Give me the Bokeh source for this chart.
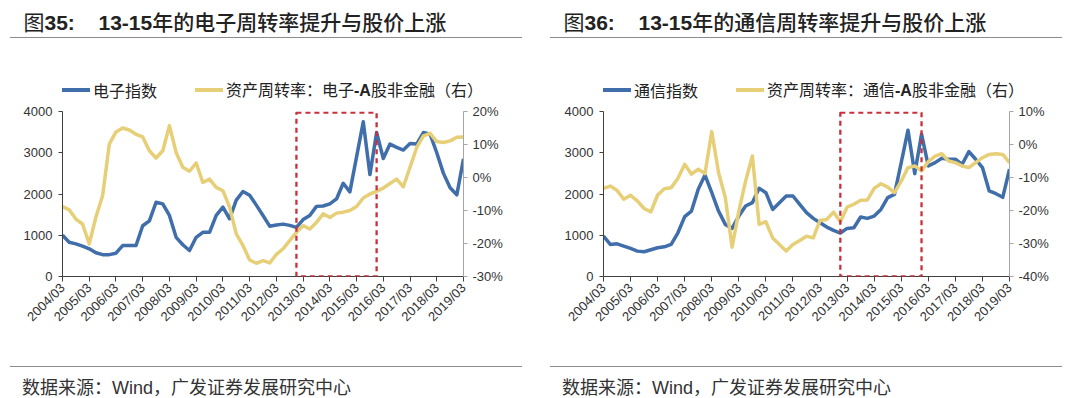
import math
from bokeh.plotting import figure
from bokeh.models import (Range1d, LinearAxis, FixedTicker, PrintfTickFormatter,
                          BoxAnnotation, Div)
from bokeh.layouts import row, column
from bokeh.embed import file_html
from bokeh.resources import INLINE

# ---------------- data (quarterly, 2004/03 .. 2019/03) ----------------
quarters = [f"{y}/{m:02d}" for y in range(2004, 2020) for m in (3, 6, 9, 12)][:61]
tick_labels = ["2004/03", "2005/03", "2006/03", "2007/03", "2008/03", "2009/03",
               "2010/03", "2011/03", "2012/03", "2013/03", "2014/03", "2015/03",
               "2016/03", "2017/03", "2018/03", "2019/03"]

elec_index = [1000, 830, 790, 735, 670, 575, 530, 530, 565, 750, 750, 750,
              1230, 1350, 1800, 1760, 1480, 950, 770, 630, 950, 1070, 1070, 1480,
              1680, 1400, 1850, 2060, 1970, 1730, 1480, 1220, 1250, 1270, 1240, 1190,
              1380, 1480, 1700, 1710, 1760, 1880, 2260, 2050, 2900, 3750, 2470, 3490,
              2860, 3210, 3130, 3065, 3225, 3210, 3490, 3450, 3000, 2500, 2150, 1980,
              2850]
elec_turnover = [-8.8, -9.8, -12.6, -14.1, -20.1, -12.0, -5.5, 10.1, 13.8, 15.0, 14.4, 13.1,
                 12.3, 8.1, 5.9, 8.1, 15.7, 7.6, 3.1, 1.9, 4.4, -1.5, -0.5, -3.0,
                 -4.0, -9.0, -17.1, -20.6, -25.0, -26.0, -25.2, -25.9, -23.3, -21.6, -19.1, -16.6,
                 -14.6, -15.6, -13.6, -11.0, -12.1, -10.8, -10.5, -10.0, -8.8, -6.2, -5.0, -4.2,
                 -3.2, -1.8, -0.5, -2.8, 3.1, 9.1, 12.6, 13.4, 10.9, 10.6, 11.1, 12.2,
                 12.3]

tel_index = [980, 777, 793, 737, 680, 615, 600, 648, 696, 720, 777, 1060,
             1450, 1587, 2113, 2460, 2032, 1587, 1263, 1166, 1465, 1708, 1790, 2137,
             2032, 1627, 1790, 1951, 1951, 1749, 1547, 1409, 1304, 1198, 1117, 1053,
             1166, 1182, 1441, 1409, 1465, 1627, 1911, 1992, 2760, 3546, 2494, 3449,
             2680, 2761, 2866, 2842, 2842, 2720, 3028, 2842, 2640, 2073, 2008, 1920,
             2600]
tel_turnover = [-13.3, -12.6, -13.9, -16.6, -15.4, -17.1, -19.4, -20.4, -15.3, -13.4, -13.1, -10.2,
                -6.0, -9.0, -7.5, -8.8, 3.9, -8.5, -16.1, -31.1, -20.2, -11.1, -3.5, -24.2,
                -23.4, -28.3, -30.3, -32.3, -30.3, -29.1, -27.8, -28.3, -23.0, -22.7, -20.5, -23.4,
                -19.0, -18.1, -16.9, -16.8, -13.3, -11.9, -12.9, -14.6, -11.1, -7.0, -6.5, -8.0,
                -5.2, -3.5, -2.8, -5.0, -5.5, -6.5, -7.0, -5.5, -4.0, -3.0, -2.8, -3.0,
                -5.5]

highlight_period = ("2012/12", "2015/12")

BLUE = "#3F6EAA"
YELLOW = "#E6CF77"
RED = "#C9303B"
CJK = "Noto Sans CJK SC"
LAT = "Liberation Sans"


def qpos(label):
    return quarters.index(label)


def legend_entry(color, html):
    return (f'<span style="display:inline-flex;align-items:center;">'
            f'<span style="display:inline-block;width:28px;height:4px;background:{color};'
            f'margin-right:3px;"></span>'
            f'<span style="font-family:\'{CJK}\';font-size:16px;line-height:20px;color:#222;">'
            f'{html}</span></span>')


def make_panel(fig_no, title_cn, idx_name, turn_pre, turn_post, idx_vals, turn_vals,
               right_range, right_ticks, frame_lr):
    W = 540
    TH = 101
    ml, mr = frame_lr
    # ---------------- title + legend ----------------
    leg1 = legend_entry(BLUE, idx_name)
    leg2 = legend_entry(YELLOW, f'{turn_pre}<b style="font-family:\'{LAT}\';">-A</b>{turn_post}')
    title_html = (
        f'<div style="position:relative;width:{W}px;height:{TH}px;">'
        f'<div style="position:absolute;left:10px;top:37px;width:512px;height:0;'
        f'border-top:1.5px solid #8C8C8C;"></div>'
        f'<div style="position:absolute;left:23.5px;top:8px;white-space:nowrap;'
        f'font-family:\'{LAT}\',\'{CJK}\';font-size:21px;line-height:26px;color:#222;">'
        f'<span style="font-family:\'{CJK}\';">图</span><b>{fig_no}:</b></div>'
        f'<div style="position:absolute;left:98.5px;top:8px;white-space:nowrap;'
        f'font-family:\'{LAT}\',\'{CJK}\';font-size:21px;line-height:26px;color:#222;">'
        f'<b>13-15</b><span style="font-family:\'{CJK}\';font-weight:500;">{title_cn}</span></div>'
        f'<div style="position:absolute;left:{ml}px;top:79px;white-space:nowrap;'
        f'display:flex;gap:38px;">{leg1}{leg2}</div>'
        f'</div>')
    title = Div(text=title_html, width=W, height=TH, margin=0,
                styles={"overflow": "visible"})

    # ---------------- figure ----------------
    p = figure(width=W, height=240, x_range=Range1d(0, 60), y_range=Range1d(0, 4000),
               output_backend="svg", toolbar_location=None,
               min_border_left=ml, min_border_right=mr, min_border_top=10,
               min_border_bottom=65, margin=0)
    p.outline_line_color = None
    p.grid.visible = False
    p.background_fill_color = "white"
    p.border_fill_color = "white"

    p.extra_y_ranges = {"r": Range1d(*right_range)}

    x = [quarters.index(q) for q in quarters]
    p.line(x, idx_vals, line_color=BLUE, line_width=3.5, line_join="round")
    p.line(x, turn_vals, line_color=YELLOW, line_width=3.5, line_join="round",
           y_range_name="r")

    # axes
    xa = p.xaxis[0]
    xa.ticker = FixedTicker(ticks=[qpos(t) for t in tick_labels])
    xa.major_label_overrides = {qpos(t): t for t in tick_labels}
    xa.major_label_orientation = math.pi / 4
    xa.major_tick_out = 5
    xa.major_tick_in = 0
    xa.minor_tick_out = 0
    xa.minor_tick_in = 0
    xa.axis_line_color = "#404040"
    xa.major_tick_line_color = "#404040"
    xa.major_label_text_font = LAT
    xa.major_label_text_font_size = "13px"
    xa.major_label_text_color = "#333333"
    xa.major_label_standoff = 4

    ya = p.yaxis[0]
    ya.ticker = FixedTicker(ticks=[0, 1000, 2000, 3000, 4000])
    ya.formatter = PrintfTickFormatter(format="%d")
    ya.major_tick_out = 4
    ya.major_tick_in = 0
    ya.minor_tick_out = 0
    ya.minor_tick_in = 0
    ya.axis_line_color = "#404040"
    ya.major_tick_line_color = "#404040"
    ya.major_label_text_font = LAT
    ya.major_label_text_font_size = "13px"
    ya.major_label_text_color = "#333333"
    ya.major_label_standoff = 6

    ra = LinearAxis(y_range_name="r", ticker=FixedTicker(ticks=right_ticks),
                    formatter=PrintfTickFormatter(format="%d%%"))
    ra.major_tick_out = 4
    ra.major_tick_in = 0
    ra.minor_tick_out = 0
    ra.minor_tick_in = 0
    ra.axis_line_color = "#A6A6A6"
    ra.major_tick_line_color = "#A6A6A6"
    ra.major_label_text_font = LAT
    ra.major_label_text_font_size = "13px"
    ra.major_label_text_color = "#333333"
    ra.major_label_standoff = 5
    p.add_layout(ra, "right")

    # highlighted period
    box = BoxAnnotation(left=qpos(highlight_period[0]), right=qpos(highlight_period[1]),
                        bottom=0, top=3975, fill_alpha=0, line_color=RED, line_alpha=1,
                        line_width=2.3, line_dash="5 4")
    p.add_layout(box)

    # ---------------- footer ----------------
    foot_html = (
        f'<div style="position:relative;width:{W}px;height:57px;">'
        f'<div style="position:absolute;left:10px;top:25px;width:512px;height:0;'
        f'border-top:1.5px solid #8C8C8C;"></div>'
        f'<div style="position:absolute;left:22px;top:36px;white-space:nowrap;'
        f'font-family:\'{LAT}\',\'{CJK}\';font-size:18px;line-height:18px;color:#333;">'
        f'<span style="font-family:\'{CJK}\';">数据来源：</span>Wind<span style="font-family:\'{CJK}\';">，广发证券发展研究中心</span></div>'
        f'</div>')
    foot = Div(text=foot_html, width=W, height=57, margin=0,
               styles={"overflow": "visible"})

    return column(title, p, foot, spacing=0)


left = make_panel("35", "年的电子周转率提升与股价上涨", "电子指数",
                  "资产周转率：电子", "股非金融（右）", elec_index, elec_turnover,
                  (-30, 20), [-30, -20, -10, 0, 10, 20], (62, 77))
right = make_panel("36", "年的通信周转率提升与股价上涨", "通信指数",
                   "资产周转率：通信", "股非金融（右）", tel_index, tel_turnover,
                   (-40, 10), [-40, -30, -20, -10, 0, 10], (63, 71))

layout = row(left, right, spacing=0)
open("out.html", "w").write(file_html(layout, INLINE))
